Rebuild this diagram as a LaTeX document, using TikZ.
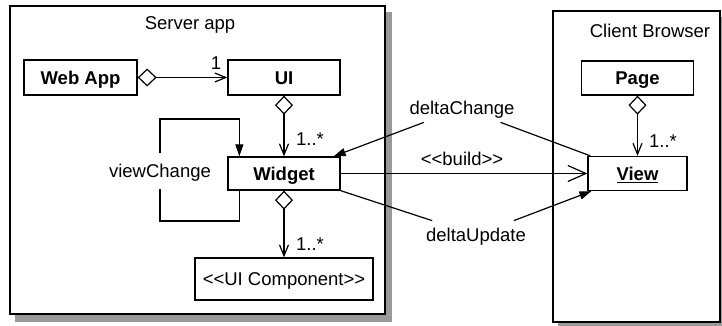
\documentclass[tikz,border=0pt]{standalone}
\usepackage{fontspec}
\setmainfont{Liberation Sans}
\usetikzlibrary{arrows.meta}
\newcommand{\stLeft}{<\kern0pt<}
\newcommand{\stRight}{>\kern0pt>}
\tikzset{
  every node/.style={font=\fontsize{18.5}{22}\selectfont, text height=13.3pt, text depth=0pt},
  frame/.style={draw, line width=1.6pt, fill=white},
  shadowbox/.style={fill=black!40, draw=none},
  cls/.style={draw, line width=1.3pt, fill=white, inner sep=0pt, font=\fontsize{18.5}{22}\selectfont\bfseries},
  plaincls/.style={draw, line width=1.3pt, fill=white, inner sep=0pt},
  conn/.style={line width=1.2pt},
  agg/.style={conn, {Diamond[open,length=19pt,width=18pt]}-{Straight Barb[length=11pt,width=9pt]}},
  dep/.style={conn, -{Straight Barb[length=18pt,width=16pt]}},
  msg/.style={conn, -{Triangle[length=12pt,width=8pt]}},
  gaplbl/.style={inner xsep=2pt, inner ysep=7.5pt},
}
\begin{document}
\begin{tikzpicture}[x=1pt,y=-1pt]
\useasboundingbox (0,0) rectangle (722,326);
% shadows and frames
\fill[shadowbox] (15,12) rectangle (392,322);
\fill[shadowbox] (558,17) rectangle (728,330);
\draw[frame] (10,6) rectangle (385,314);
\draw[frame] (553,11) rectangle (720,322);
\node (srvtitle) at (190,23) {Server app};
\node (clttitle) at (650,31) {Client Browser};
% classes
\node[cls, minimum width=113pt, minimum height=35pt] (webapp) at (80.5,77.5) {Web App};
\node[cls, minimum width=112pt, minimum height=35pt] (ui) at (284,77.5) {UI};
\node[cls, minimum width=112pt, minimum height=33pt] (widget) at (284,173.5) {Widget};
\node[plaincls, minimum width=178pt, minimum height=42pt] (uicomp) at (284,279) {\stLeft UI Component\stRight};
\node[cls, minimum width=112pt, minimum height=34pt] (page) at (637.5,78) {Page};
\node[cls, minimum width=99pt, minimum height=34pt] (view) at (637.5,173.5) {\underline{View}};
% multiplicities
\node (one) at (216,63) {1};
\node (m1) at (310,139) {1..*};
\node (m2) at (310,244) {1..*};
\node (m3) at (663,141) {1..*};
% message labels
\node[gaplbl] (dc) at (462,108) {deltaChange};
\node (bld) at (462,159) {\stLeft build\stRight};
\node[gaplbl] (du) at (476,235) {deltaUpdate};
\node[inner xsep=0pt, minimum height=35pt] (vc) at (160,171) {viewChange};
% connectors
\draw[agg] (webapp) -- (ui);
\draw[agg] (ui) -- (widget);
\draw[agg] (widget) -- (uicomp);
\draw[agg] (page) -- (view);
\draw[dep] (widget) -- (view);
\draw[conn] ([xshift=3pt]view.north west) -- (dc);
\draw[msg] (dc) -- ([xshift=-7pt]widget.north east);
\draw[conn] (widget.south east) -- (du);
\draw[msg] (du) -- ([xshift=4pt]view.south west);
\coordinate (loopbl) at (160,221);
\coordinate (looptl) at (160,119);
\draw[conn] ([xshift=12pt]widget.south west) |- (loopbl) -- (vc);
\draw[msg] (vc) -- (looptl) -| ([xshift=12pt]widget.north west);
\end{tikzpicture}
\end{document}
